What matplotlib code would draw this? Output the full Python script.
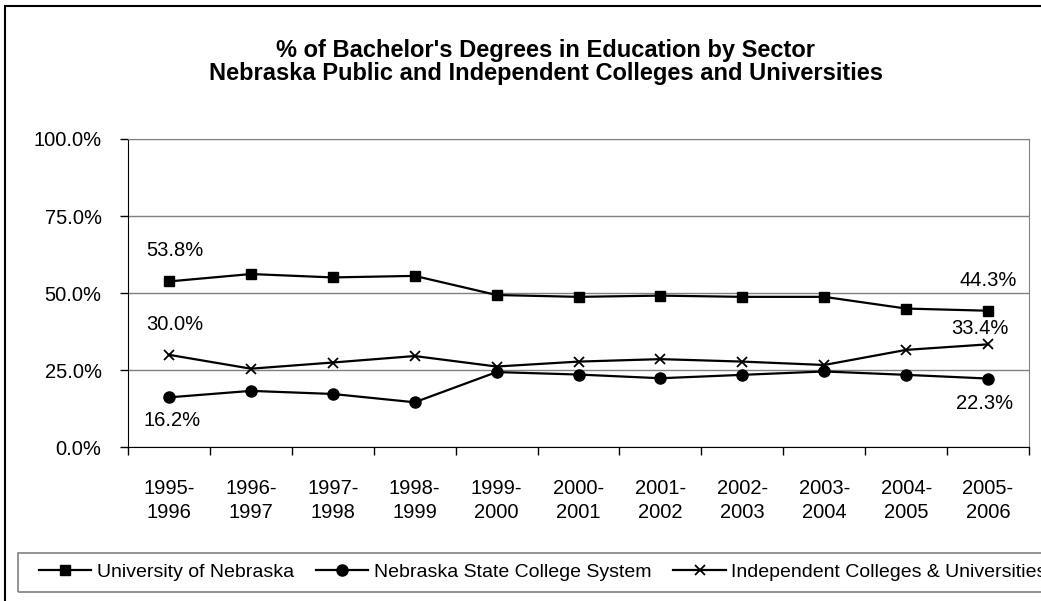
#!/usr/bin/env python3
"""Share of bachelor's degrees in education by sector, Nebraska."""

import matplotlib
matplotlib.use("Agg")
import matplotlib.pyplot as plt
from matplotlib.patches import Rectangle
from matplotlib.ticker import PercentFormatter, FixedLocator

YEARS = ["1995-\n1996", "1996-\n1997", "1997-\n1998", "1998-\n1999", "1999-\n2000",
         "2000-\n2001", "2001-\n2002", "2002-\n2003", "2003-\n2004", "2004-\n2005",
         "2005-\n2006"]
UNL = [53.8, 56.2, 55.1, 55.6, 49.4, 48.8, 49.2, 48.8, 48.8, 45.0, 44.3]
STATE = [16.2, 18.3, 17.3, 14.6, 24.4, 23.6, 22.4, 23.5, 24.6, 23.5, 22.3]
INDEP = [30.0, 25.5, 27.5, 29.6, 26.2, 27.8, 28.6, 27.8, 26.7, 31.6, 33.4]

plt.rcParams["font.family"] = ["Liberation Sans", "DejaVu Sans"]

W, H = 1041, 601
fig = plt.figure(figsize=(W / 100, H / 100), dpi=100)
ax = fig.add_axes([128 / W, (H - 447.3) / H, 901 / W, 308.3 / H])

x = range(len(YEARS))
ax.plot(x, UNL, color="black", lw=1.6, marker="s", ms=6.5, label="University of Nebraska")
ax.plot(x, STATE, color="black", lw=1.6, marker="o", ms=8, label="Nebraska State College System")
ax.plot(x, INDEP, color="black", lw=1.6, marker="x", ms=7.5, mew=1.3,
        label="Independent Colleges & Universities")

ax.set_xlim(-0.5, len(YEARS) - 0.5)
ax.set_ylim(0, 100)
ax.set_yticks([0, 25, 50, 75, 100])
ax.yaxis.set_major_formatter(PercentFormatter(decimals=1))
ax.set_xticks(list(x))
ax.set_xticklabels(YEARS, linespacing=1.35)
ax.xaxis.set_minor_locator(FixedLocator([i - 0.5 for i in range(len(YEARS) + 1)]))
ax.tick_params(axis="x", which="major", length=0, pad=23, labelsize=14.5)
ax.tick_params(axis="x", which="minor", length=6, width=1, direction="out")
ax.tick_params(axis="y", length=6, width=1, labelsize=14.5, pad=13)
ax.grid(axis="y", color="#808080", lw=1)
ax.set_axisbelow(True)
for side in ("top", "right"):
    ax.spines[side].set_color("#808080")
for side in ("left", "bottom"):
    ax.spines[side].set_color("black")

# end-point data labels
lab = dict(fontsize=14.5, textcoords="offset points", ha="center", va="center")
ax.annotate("53.8%", (0, UNL[0]), xytext=(4.3, 22), **lab)
ax.annotate("30.0%", (0, INDEP[0]), xytext=(4.3, 21.5), **lab)
ax.annotate("16.2%", (0, STATE[0]), xytext=(2.2, -17), **lab)
ax.annotate("44.3%", (10, UNL[-1]), xytext=(0, 22), **lab)
ax.annotate("33.4%", (10, INDEP[-1]), xytext=(-5.8, 11.3), **lab)
ax.annotate("22.3%", (10, STATE[-1]), xytext=(-2.2, -17.7), **lab)

fig.text(546 / W, (H - 62) / H,
         "% of Bachelor's Degrees in Education by Sector\n"
         "Nebraska Public and Independent Colleges and Universities",
         ha="center", va="center", fontsize=17, fontweight="bold", linespacing=0.95)

# legend: frame drawn separately, runs off the right edge like the original
fig.patches.append(Rectangle((17.7 / W, (H - 591.7) / H), 1.2, 39 / H,
                             transform=fig.transFigure, fill=False,
                             edgecolor="#808080", lw=1.2))
fig.legend(loc="center left", bbox_to_anchor=(39 / W, (H - 572) / H), ncol=3,
           fontsize=14, frameon=False, handlelength=2.68, handletextpad=0.3,
           columnspacing=1.13, borderpad=0, borderaxespad=0)

fig.patches.append(Rectangle((5 / W, -0.1), 1.2, (H - 6) / H + 0.1,
                             transform=fig.transFigure, fill=False,
                             edgecolor="black", lw=1.5))

fig.savefig("out.png", dpi=100)
